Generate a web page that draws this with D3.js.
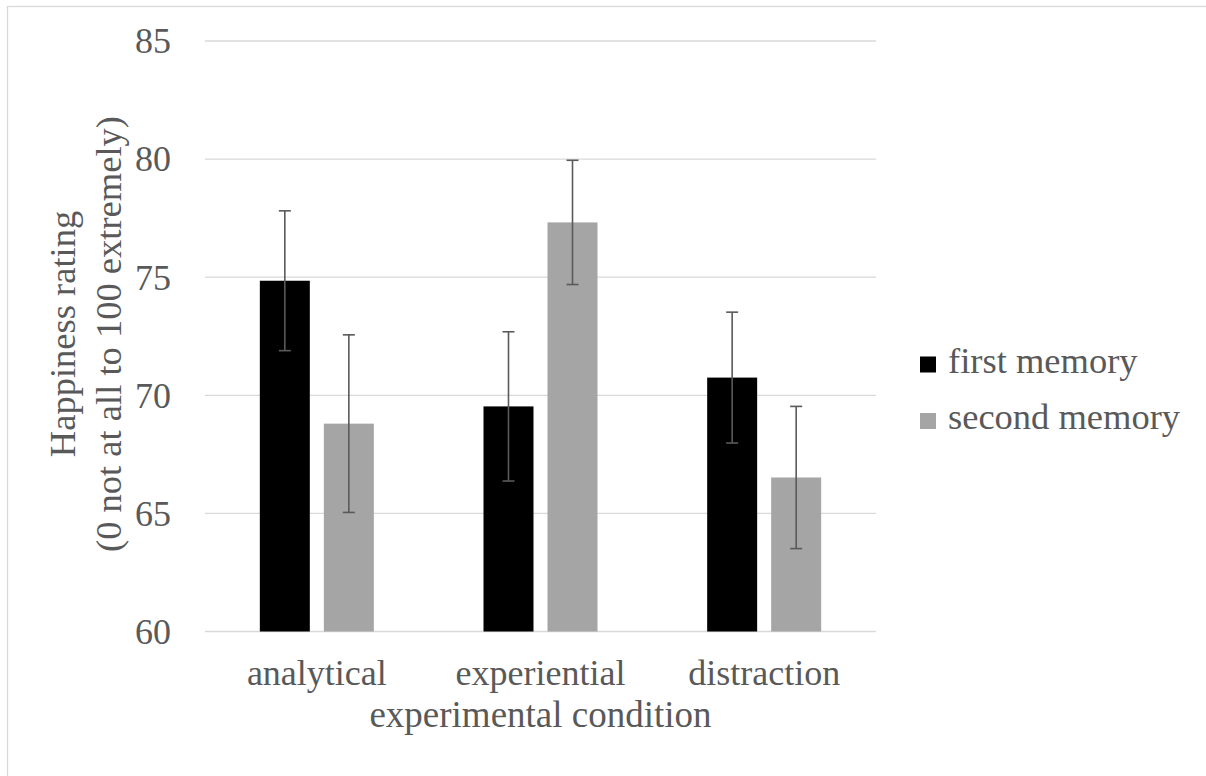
<!DOCTYPE html>
<html>
<head>
<meta charset="utf-8">
<script src="https://cdn.jsdelivr.net/npm/d3@7"></script>
<style>
  body { margin: 0; background: #fff; }
  svg text { font-family: "Liberation Serif", "Times New Roman", Tinos, "DejaVu Serif", serif !important; fill: #595959; }
</style>
</head>
<body>
<div class="canva"></div>
<script>
// data
var conditions = ["analytical", "experiential", "distraction"];
var seriesNames = ["first memory", "second memory"];
var firstMemory = [74.85, 69.53, 70.75];
var secondMemory = [68.8, 77.32, 66.52];
var firstErr = [2.96, 3.16, 2.77];
var secondErr = [3.76, 2.63, 3.01];
var yTicks = [60, 65, 70, 75, 80, 85];

var colors = ["#000000", "#a5a5a5"];

var W = 1206, H = 776;
var margin = {top: 41, left: 205, right: 330, bottom: 144.5};
var width = W - margin.left - margin.right,
    height = H - margin.top - margin.bottom;

var data = [];
for (i = 0; i < conditions.length; i++) {
  data.push({cond: conditions[i], vals: [
    {s: 0, v: firstMemory[i], e: firstErr[i]},
    {s: 1, v: secondMemory[i], e: secondErr[i]}
  ]});
}

var svg = d3.select(".canva").append("svg")
  .attr("width", W).attr("height", H);

// outer frame
svg.append("rect")
  .attr("x", 7.5).attr("y", 6.5)
  .attr("width", W).attr("height", H)
  .attr("fill", "none").attr("stroke", "#d9d9d9").attr("stroke-width", 1.3);

var g = svg.append("g")
  .attr("transform", "translate(" + margin.left + "," + margin.top + ")");

var y = d3.scaleLinear().domain([60, 85]).range([height, 0]);
var x0 = d3.scaleBand().domain(conditions).range([0, width]).padding(0);
var groupW = 114;
var x1 = d3.scaleBand().domain([0, 1]).range([0, groupW]).paddingInner(0.219);

// gridlines
g.selectAll(".grid").data(yTicks).enter().append("line")
  .attr("x1", 0).attr("x2", width)
  .attr("y1", function(d) { return y(d); })
  .attr("y2", function(d) { return y(d); })
  .attr("stroke", "#d9d9d9").attr("stroke-width", 1.3);

// y tick labels
var yAxis = g.append("g").call(d3.axisLeft(y).tickValues(yTicks).tickSize(0).tickPadding(34));
yAxis.attr("font-family", null);
yAxis.select(".domain").remove();
yAxis.selectAll("text")
  .attr("font-size", 36).attr("dy", "0.33em").attr("fill", "#595959");

// x tick labels
var xAxis = g.append("g").attr("transform", "translate(0," + height + ")")
  .call(d3.axisBottom(x0).tickSize(0).tickPadding(28));
xAxis.attr("font-family", null);
xAxis.select(".domain").remove();
xAxis.selectAll("text")
  .attr("font-size", 36).attr("fill", "#595959");

// bars
var groups = g.selectAll(".grp").data(data).enter().append("g")
  .attr("transform", function(d) {
    return "translate(" + (x0(d.cond) + (x0.bandwidth() - groupW) / 2) + ",0)";
  });

groups.selectAll("rect").data(function(d) { return d.vals; }).enter().append("rect")
  .attr("x", function(d) { return x1(d.s); })
  .attr("width", x1.bandwidth())
  .attr("y", function(d) { return y(d.v); })
  .attr("height", function(d) { return height - y(d.v); })
  .attr("fill", function(d) { return colors[d.s]; });

// error bars
var eb = groups.selectAll(".eb").data(function(d) { return d.vals; }).enter().append("g")
  .attr("stroke", "#5a5a5a").attr("stroke-width", 1.6);
eb.append("line")
  .attr("x1", function(d) { return x1(d.s) + x1.bandwidth() / 2; })
  .attr("x2", function(d) { return x1(d.s) + x1.bandwidth() / 2; })
  .attr("y1", function(d) { return y(d.v + d.e); })
  .attr("y2", function(d) { return y(d.v - d.e); });
[1, -1].forEach(function(sign) {
  eb.append("line")
    .attr("x1", function(d) { return x1(d.s) + x1.bandwidth() / 2 - 6; })
    .attr("x2", function(d) { return x1(d.s) + x1.bandwidth() / 2 + 6; })
    .attr("y1", function(d) { return y(d.v + sign * d.e); })
    .attr("y2", function(d) { return y(d.v + sign * d.e); });
});

// axis titles
svg.append("text")
  .attr("x", margin.left + width / 2).attr("y", 727)
  .attr("text-anchor", "middle").attr("font-size", 37)
  .text("experimental condition");

var yt = svg.append("text")
  .attr("transform", "translate(0,334) rotate(-90)")
  .attr("text-anchor", "middle").attr("font-size", 36.5);
yt.append("tspan").attr("x", 0).attr("y", 75).text("Happiness rating");
yt.append("tspan").attr("x", 0).attr("y", 121).text("(0 not at all to 100 extremely)");

// legend
var leg = svg.selectAll(".leg").data(seriesNames).enter().append("g")
  .attr("transform", function(d, i) { return "translate(920," + (356.5 + i * 56.5) + ")"; });
leg.append("rect").attr("width", 16).attr("height", 16)
  .attr("fill", function(d, i) { return colors[i]; });
leg.append("text").attr("x", 28).attr("y", 16)
  .attr("font-size", 36.5)
  .text(function(d) { return d; });
</script>
</body>
</html>
